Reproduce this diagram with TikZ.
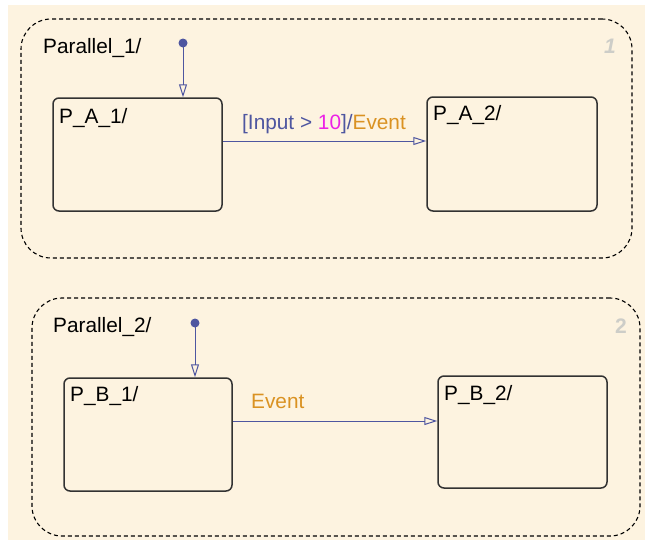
\documentclass[tikz,border=0pt]{standalone}
\usepackage{fontspec}
\setmainfont{Liberation Sans}
\usepackage{xcolor}
\definecolor{chartbg}{RGB}{253,243,224}
\definecolor{transblue}{RGB}{78,86,160}
\definecolor{evorange}{RGB}{218,146,34}
\definecolor{valmagenta}{RGB}{236,34,230}
\definecolor{ordergray}{RGB}{205,205,200}
\definecolor{statedark}{RGB}{50,50,50}
\usetikzlibrary{positioning,arrows.meta,calc}
\tikzset{
  parbox/.style={draw=black,line width=1.1pt,dash pattern=on 4pt off 3pt,rounded corners=30pt,inner sep=0pt},
  statebox/.style={draw=statedark,line width=1.5pt,rounded corners=6pt,inner sep=0pt},
  boxlbl/.style={anchor=base west,inner sep=0pt,font=\fontsize{20.8}{24}\selectfont},
  ordlbl/.style={anchor=base west,inner sep=0pt,text=ordergray,font=\fontsize{21}{24}\selectfont\bfseries},
  initdot/.style={circle,fill=transblue,inner sep=0pt,minimum size=9pt},
  trans/.style={draw=transblue,line width=1pt,-{Triangle[open,length=13pt,width=8pt]}},
}
\begin{document}
\begin{tikzpicture}[x=1pt,y=-1pt]
  \useasboundingbox (0,0) rectangle (645,542);
  \fill[chartbg] (8,5) rectangle (645,540);
  % parallel states
  \node[parbox,minimum width=611pt,minimum height=239pt] (par1) at (326.5,138.5) {};
  \node[parbox,minimum width=608pt,minimum height=238pt] (par2) at (336,417) {};
  \node[boxlbl] (par1lbl) at (43,53) {Parallel\_1/};
  \node[boxlbl] (par2lbl) at (53,332) {Parallel\_2/};
  \node[ordlbl,font=\fontsize{21}{24}\selectfont\bfseries\itshape] (ord1) at (604,53) {1};
  \node[ordlbl] (ord2) at (615,333) {2};
  % substates
  \node[statebox,minimum width=169pt,minimum height=113pt] (pa1) at (137.5,154.5) {};
  \node[statebox,minimum width=170pt,minimum height=114pt] (pa2) at (512,154) {};
  \node[statebox,minimum width=168pt,minimum height=113pt] (pb1) at (148,434.5) {};
  \node[statebox,minimum width=169pt,minimum height=112pt] (pb2) at (522.5,432) {};
  \node[boxlbl] (pa1lbl) at (59,123) {P\_A\_1/};
  \node[boxlbl] (pa2lbl) at (433,120) {P\_A\_2/};
  \node[boxlbl] (pb1lbl) at (70,401) {P\_B\_1/};
  \node[boxlbl] (pb2lbl) at (444,400) {P\_B\_2/};
  % default transitions
  \node[initdot] (init1) at (183,43) {};
  \node[initdot] (init2) at (195,323) {};
  \draw[trans] (init1.center) -- (init1 |- pa1.north);
  \draw[trans] (init2.center) -- (init2 |- pb1.north);
  % transitions
  \draw[trans] ([yshift=13.5pt]pa1.east) -- ([yshift=13pt]pa2.west);
  \draw[trans] ([yshift=13.5pt]pb1.east) -- ([yshift=11pt]pb2.west);
  \node[boxlbl] (condA) at (242,129) {\textcolor{transblue}{[Input >\ }\textcolor{valmagenta}{10}\textcolor{transblue}{]/}\textcolor{evorange}{Event}};
  \node[boxlbl,text=evorange] (evB) at (251,408) {Event};
\end{tikzpicture}
\end{document}
